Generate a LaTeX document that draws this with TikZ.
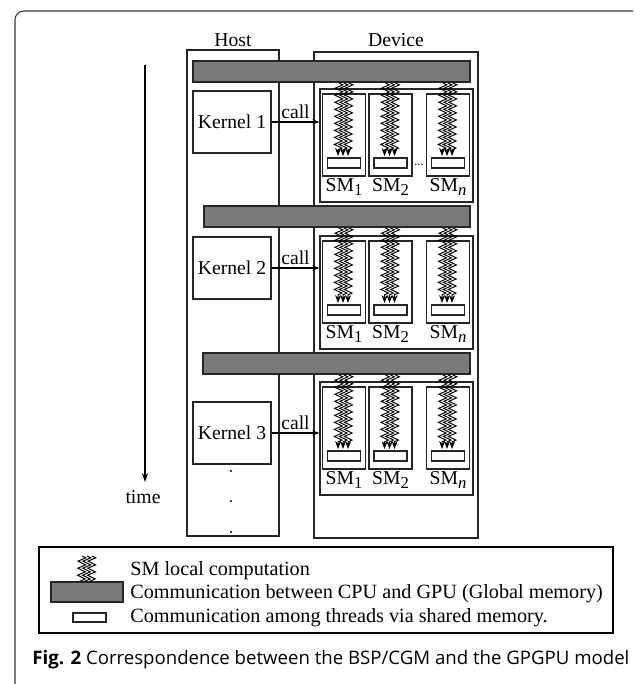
\documentclass[tikz,border=0pt]{standalone}
\usepackage{fontspec}
\setmainfont{Liberation Serif}
\newfontfamily\capfont{Open Sans}
\usetikzlibrary{arrows.meta,decorations.pathmorphing}

\begin{document}
\begin{tikzpicture}[x=0.02cm,y=-0.02cm,line join=miter,
  frame/.style={draw=black!85,line width=0.7pt},
  gmem/.style={draw=black!85,line width=0.7pt,fill=black!52},
  smem/.style={draw=black!85,line width=0.6pt,fill=white},
  thread/.style={line width=0.55pt,decorate,
    decoration={zigzag,segment length=4pt,amplitude=2.2pt,post length=3pt},
    -{Stealth[length=4.5pt,width=3.4pt]}},
  txt/.style={font=\fontsize{11.2}{13}\selectfont,inner sep=0pt},
  ltxt/.style={font=\fontsize{11.5}{13}\selectfont,inner sep=0pt,anchor=west}]
  \useasboundingbox (0,0) rectangle (636,684);
  % page frame
  \draw[line width=0.6pt,black!80,rounded corners=5pt] (15,684) -- (15,11) -- (633,11);
  % time axis
  \coordinate (t0) at (145,65);
  \node[txt] (time) at (143,497) {time};
  \draw[line width=0.7pt,-{Stealth[length=5pt,width=3.5pt]}] (t0) -- (145,482);
  % host and device
  \draw[frame] (187,50) rectangle (279,536);
  \draw[frame] (314,52) rectangle (478,538);
  \node[txt] (host) at (233,40) {Host};
  \node[txt] (device) at (396,40) {Device};
  % one superstep per row: bar left, bar top, group top, kernel centre
  \foreach \i/\bx/\by/\gy/\ky in {1/193/61/89/122,2/204/206/236/268,3/203/353/382/433}{
    \draw[gmem] (\bx,\by) rectangle (470,\by+21);
    \node[frame,minimum width=3.06cm,minimum height=2.26cm] (g\i) at (396.5,\gy+56.5) {};
    \node[frame,txt,minimum width=1.56cm,minimum height=1.24cm] (k\i) at (232,\ky) {Kernel \i};
    \draw[line width=0.6pt,-{Stealth[length=4pt,width=3pt]}] (k\i.east) -- (k\i.east -| g\i.west)
      node[txt,pos=0.5,above=1.5pt] {call};
    \foreach \sx/\sm in {344/{1},390.5/{2},448/{\itshape n}}{
      \draw[frame] (\sx-21.5,\gy+5) rectangle (\sx+21.5,\gy+87);
      \draw[smem] (\sx-16.5,\gy+69) rectangle (\sx+16.5,\gy+79);
      \node[txt] (sm\i) at (\sx,\gy+98)
        {SM\raisebox{-0.45ex}{\fontsize{9.5}{10}\selectfont\sm}};
      \foreach \dx in {-5,0,5}
        \draw[thread] (\sx+\dx,\by+22) -- (\sx+\dx-1,\gy+67);
    }
  }
  \node[font=\fontsize{7}{7}\selectfont,inner sep=0pt] (more) at (419,165) {...};
  % dots below the last kernel
  \foreach \y in {471,501,532}
    \fill (231,\y) circle (1.1);
  % legend
  \draw[line width=1.2pt] (39,547) rectangle (613,633);
  \foreach \dx in {-5,0,5}
    \draw[thread] (87+\dx,556) -- (86+\dx,590);
  \draw[gmem] (51,582) rectangle (123,602);
  \draw[smem] (73,613) rectangle (106,622);
  \node[ltxt] (l1) at (130,571) {SM local computation};
  \node[ltxt] (l2) at (130,594) {Communication between CPU and GPU (Global memory)};
  \node[ltxt] (l3) at (130,618) {Communication among threads via shared memory.};
  % caption
  \node[font=\capfont\fontsize{10.6}{12}\selectfont,anchor=west,inner sep=0pt] (cap) at (32,660)
    {\textbf{Fig. 2} Correspondence between the BSP/CGM and the GPGPU model};
\end{tikzpicture}
\end{document}
